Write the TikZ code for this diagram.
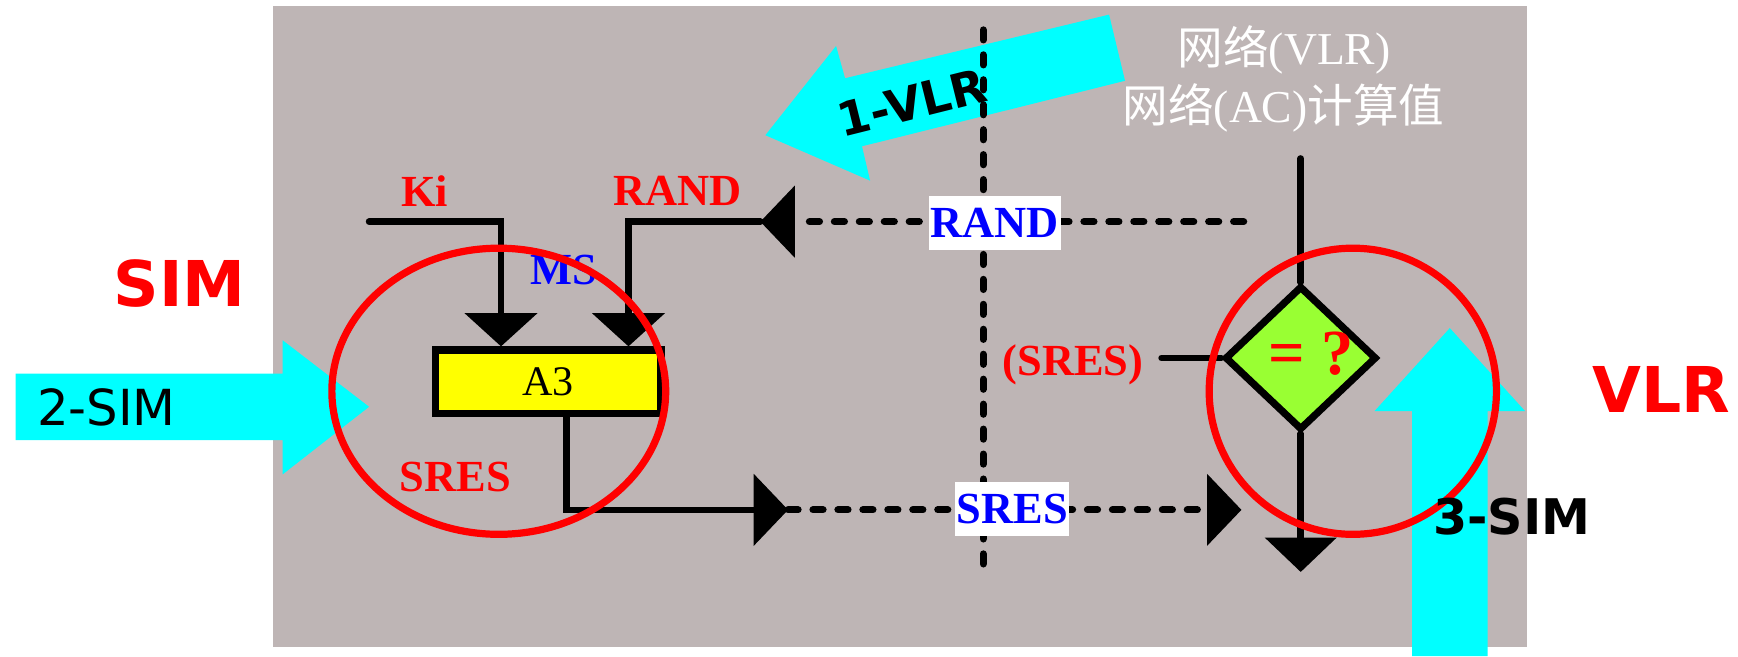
\documentclass[tikz,border=0pt]{standalone}
\usepackage{fontspec}
\setmainfont{Liberation Serif}
\newfontfamily\vsans{DejaVu Sans}
\newfontfamily\cjkf{Noto Sans CJK SC}
\usetikzlibrary{arrows.meta,shapes.geometric}
\definecolor{bggray}{RGB}{190,181,181}
\definecolor{cyanA}{RGB}{0,255,255}
\definecolor{redA}{RGB}{255,0,0}
\definecolor{blueA}{RGB}{0,0,255}
\definecolor{yellowA}{RGB}{255,255,0}
\definecolor{greenA}{RGB}{153,255,51}
\tikzset{
  bigtip/.tip={Triangle[length=0.31cm,width=0.65cm,line width=0pt]},
  downtip/.tip={Triangle[length=0.30cm,width=0.66cm,line width=0pt]},
  blk/.style={line width=0.06cm, line cap=round},
  dotln/.style={line width=0.065cm, line cap=round, dash pattern=on 0.09cm off 0.135cm},
  redlbl/.style={text=redA, inner sep=0pt, font=\bfseries\fontsize{11.4pt}{13pt}\selectfont},
  bluelbl/.style={text=blueA, fill=white, inner sep=0pt, minimum height=0.49cm, font=\bfseries\fontsize{11.4pt}{13pt}\selectfont},
  bigsans/.style={text=redA, inner sep=0pt, font=\vsans\bfseries\fontsize{16.2pt}{18pt}\selectfont},
  ring/.style={ellipse, draw=redA, line width=0.065cm, inner sep=0pt},
  netlbl/.style={text=white, inner sep=0pt, font=\fontsize{11.7pt}{14pt}\selectfont},
}
\begin{document}
\begin{tikzpicture}[x=0.01cm,y=-0.01cm]
\fill[white] (0,0) rectangle (1568,592);
\useasboundingbox (0,0) rectangle (1568,592);
% gray panel
\fill[bggray] (246.5,5.5) rectangle (1377.5,584);
% cyan arrows
\fill[cyanA] (14,337) -- (255,337) -- (255,307) -- (333,367) -- (255,428) -- (255,397) -- (14,397) -- cycle;
\fill[cyanA] (1274,592) -- (1274,371) -- (1240,371) -- (1308,296) -- (1376,371) -- (1342,371) -- (1342,592) -- cycle;
\fill[cyanA] (1000.6,13.2) -- (762.4,70.6) -- (754.3,41.5) -- (690.5,122) -- (785,163) -- (777.7,132) -- (1015,72.9) -- cycle;
\node[inner sep=0pt, font=\vsans\fontsize{12.75pt}{14pt}\selectfont] (sim2) at (96,368) {2-SIM};
% side labels
\node[bigsans] (simlbl) at (162,256) {SIM};
\node[bigsans] (vlrlbl) at (1499,351) {VLR};
% network text
\node[netlbl] (net1) at (1158.5,45) {{\cjkf 网络}(VLR)};
\node[netlbl] (net2) at (1158,97) {{\cjkf 网络}(AC){\cjkf 计算值}};
% dotted separator
\coordinate (sepT) at (887,27);
\coordinate (sepB) at (887,519);
\draw[dotln] (sepT) -- (sepB);
\node[inner sep=0pt, rotate=14, font=\vsans\bfseries\fontsize{12pt}{14pt}\selectfont] (vlr1) at (822.7,92.5) {1-VLR};
% A3 box
\node[draw, fill=yellowA, line width=0.07cm, minimum width=2.03cm, minimum height=0.57cm, inner sep=0pt, font=\fontsize{10.8pt}{12pt}\selectfont] (a3) at (494.5,344.5) {A3};
% Ki input
\coordinate (kiS) at (333,200);
\coordinate (kiC) at (452,200);
\draw[blk, -{downtip}] (kiS) -- (kiC) -- (kiC |- a3.north);
% RAND input
\coordinate (randR) at (1122,200);
\coordinate (randTip) at (686,200);
\coordinate (randC) at (567,200);
\draw[dotln, -{bigtip}] (randR) -- (randTip);
\draw[blk, -{downtip}] (randTip) -- (randC) -- (randC |- a3.north);
% SRES output
\coordinate (sresC) at (511,460);
\coordinate (sresT1) at (711,460);
\coordinate (sresT2) at (1120,460);
\draw[blk, -{bigtip}] (sresC |- a3.south) -- (sresC) -- (sresT1);
\draw[dotln, -{bigtip}] (sresT1) -- (sresT2);
% comparator
\node[diamond, draw, fill=greenA, line width=0.065cm, minimum width=1.37cm, minimum height=1.30cm, inner sep=0pt] (cmp) at (1173.5,323) {};
\node[text=redA, inner sep=0pt, font=\bfseries\fontsize{16.5pt}{18pt}\selectfont] (eqq) at (1183,319) {= ?};
\coordinate (vtop) at (1173.5,143);
\coordinate (vbot) at (1173.5,516);
\coordinate (sresL) at (1048,323);
\draw[blk] (vtop) -- (cmp.north);
\draw[blk, -{bigtip}] (cmp.south) -- (vbot);
\draw[blk] (sresL) -- (cmp.west);
% labels
\node[redlbl] (kilbl) at (383,172) {Ki};
\node[redlbl] (randlbl) at (611,172) {RAND};
\node[redlbl, text=blueA] (mslbl) at (509,244) {MS};
\node[redlbl] (sreslbl) at (411,430) {SRES};
\node[redlbl] (sresq) at (968,329) {(SRES)};
\node[bluelbl, minimum width=1.19cm] (randbox) at (897.5,201) {RAND};
\node[bluelbl, minimum width=1.03cm] (sresbox) at (913.3,459.5) {SRES};
% red rings
\node[ring, minimum width=3.01cm, minimum height=2.58cm] (simring) at (450,353) {};
\node[ring, minimum width=2.59cm, minimum height=2.58cm] (vlrring) at (1220.5,353) {};
\node[inner sep=0pt, font=\vsans\bfseries\fontsize{12.6pt}{14pt}\selectfont] (sim3) at (1364,466) {3-SIM};
\end{tikzpicture}
\end{document}
